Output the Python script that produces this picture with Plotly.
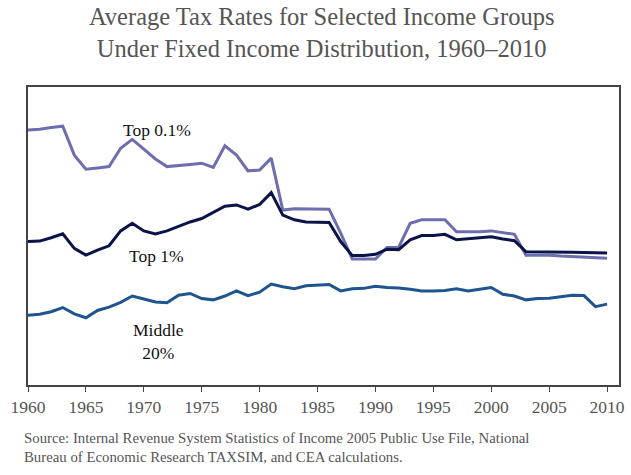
import plotly.graph_objects as go

years = list(range(1960, 2011))

top_01 = [59.9, 60.1, 60.5, 60.8, 54.0, 50.7, 51.0, 51.3, 55.6, 57.7,
          55.4, 53.1, 51.3, 51.5, 51.8, 52.1, 51.1, 56.2, 54.0, 50.3,
          50.5, 53.3, 41.1, 41.4, 41.4, 41.4, 41.3, 35.7, 29.6, 29.6,
          29.6, 32.3, 32.3, 38.0, 38.8, 38.8, 38.8, 36.0, 36.0, 36.0,
          36.2, 35.8, 35.4, 30.5, 30.5, 30.5, 30.3, 30.2, 30.1, 30.0,
          29.8]

top_1 = [33.7, 33.8, 34.6, 35.5, 32.1, 30.5, 31.7, 32.7, 36.2, 38.0,
         36.2, 35.5, 36.2, 37.3, 38.3, 39.1, 40.6, 42.0, 42.3, 41.3,
         42.4, 45.2, 39.9, 38.8, 38.3, 38.2, 38.2, 33.7, 30.4, 30.4,
         30.7, 31.9, 31.8, 34.1, 35.1, 35.1, 35.4, 34.1, 34.3, 34.6,
         34.8, 34.3, 33.9, 31.3, 31.3, 31.3, 31.2, 31.2, 31.1, 31.1,
         31.0]

middle_20 = [16.4, 16.6, 17.2, 18.2, 16.7, 15.8, 17.5, 18.3, 19.4, 20.9,
             20.2, 19.5, 19.3, 21.1, 21.5, 20.3, 20.0, 20.9, 22.1, 21.0,
             21.8, 23.7, 23.1, 22.6, 23.3, 23.4, 23.6, 22.1, 22.6, 22.7,
             23.2, 22.9, 22.8, 22.5, 22.1, 22.1, 22.2, 22.6, 22.1, 22.5,
             22.9, 21.3, 20.9, 20.0, 20.3, 20.4, 20.7, 21.1, 21.0, 18.4,
             19.0]

tick_years = [1960, 1965, 1970, 1975, 1980, 1985, 1990, 1995, 2000, 2005, 2010]

serif = "Liberation Serif, Times New Roman, serif"

fig = go.Figure()
fig.add_trace(go.Scatter(x=years, y=top_01, mode="lines", name="Top 0.1%",
                         line=dict(color="#6E6EAE", width=3)))
fig.add_trace(go.Scatter(x=years, y=top_1, mode="lines", name="Top 1%",
                         line=dict(color="#0B1448", width=3)))
fig.add_trace(go.Scatter(x=years, y=middle_20, mode="lines", name="Middle 20%",
                         line=dict(color="#1F548E", width=3)))

label_font = dict(family=serif, size=17.5, color="#111111")
fig.add_annotation(x=1971.1, y=59.9, text="Top 0.1%", showarrow=False, font=label_font)
fig.add_annotation(x=1971.1, y=30.4, text="Top 1%", showarrow=False, font=label_font)
fig.add_annotation(x=1971.3, y=10.3, text="Middle<br>20%", showarrow=False, font=label_font)

# Chart title, two centred lines above the frame
fig.add_annotation(x=0.497, y=1.0, xref="paper", yref="paper", xanchor="center", yanchor="bottom",
                   yshift=23, showarrow=False, align="center",
                   text="Average Tax Rates for Selected Income Groups<br>Under Fixed Income Distribution, 1960–2010",
                   font=dict(family=serif, size=24.5, color="#555555"))

# Source note below the axis
fig.add_annotation(x=0.0, y=-0.145, xref="paper", yref="paper", xanchor="left", yanchor="top",
                   xshift=-6, align="left", showarrow=False,
                   text="Source: Internal Revenue System Statistics of Income 2005 Public Use File, National<br>"
                        "Bureau of Economic Research TAXSIM, and CEA calculations.",
                   font=dict(family=serif, size=14.8, color="#555555"))

fig.update_layout(
    width=631, height=475,
    margin=dict(l=28, r=6, t=87, b=90),
    paper_bgcolor="white", plot_bgcolor="white",
    showlegend=False,
    xaxis=dict(range=[1960, 2011.03], tickvals=tick_years, ticks="outside", ticklen=5,
               tickcolor="#444444", showgrid=False, zeroline=False,
               showline=True, linecolor="#444444", linewidth=1.5, mirror=True,
               tickfont=dict(family=serif, size=17.5, color="#555555")),
    yaxis=dict(range=[0, 70], showticklabels=False, ticks="", showgrid=False, zeroline=False,
               showline=True, linecolor="#444444", linewidth=1.5, mirror=True),
)

fig.write_html("out.html")
